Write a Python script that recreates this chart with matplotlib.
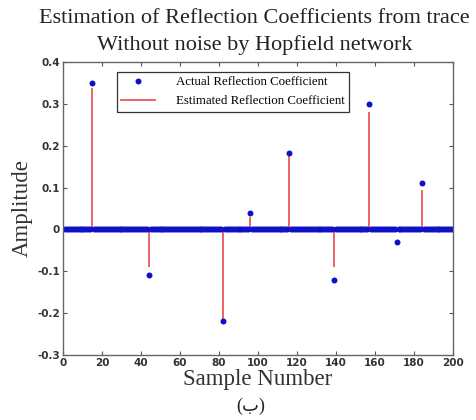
import numpy as np
import matplotlib
matplotlib.use("Agg")
import matplotlib.pyplot as plt
from matplotlib.lines import Line2D

# spike positions and values
spike_pos = [15, 44, 82, 96, 116, 139, 157, 171, 184]
actual_vals = [0.35, -0.11, -0.22, 0.04, 0.183, -0.12, 0.30, -0.03, 0.11]
estimated_vals = [0.338, -0.09, -0.215, 0.03, 0.18, -0.09, 0.281, 0.0, 0.094]
n_samples = 200

samples = np.arange(1, n_samples + 1)
actual = np.zeros(n_samples)
estimated = np.zeros(n_samples)
for p, a, e in zip(spike_pos, actual_vals, estimated_vals):
    actual[p - 1] = a
    estimated[p - 1] = e

serif = "Liberation Serif"
red = "#e8585c"
blue = "#1010c8"

fig = plt.figure(figsize=(4.77, 4.2), dpi=100)
ax = fig.add_axes([0.132, 0.155, 0.818, 0.697])

ax.vlines(samples, 0, estimated, color=red, linewidth=1.3)
ax.plot(samples, actual, linestyle="none", marker="o", markersize=4.3,
        color=blue, markeredgewidth=0)

ax.set_xlim(0, 200)
ax.set_ylim(-0.3, 0.4)
ax.set_xticks(np.arange(0, 201, 20))
ax.set_yticks(np.arange(-0.3, 0.41, 0.1))
ax.set_yticklabels(["-0.3", "-0.2", "-0.1", "0", "0.1", "0.2", "0.3", "0.4"])
ax.tick_params(direction="in", top=True, right=True, length=3, width=0.8,
               labelsize=7.5, color="#555555", pad=2)
for lab in ax.get_xticklabels() + ax.get_yticklabels():
    lab.set_fontweight("bold")
    lab.set_color("#333333")
for s in ax.spines.values():
    s.set_color("#666666")
    s.set_linewidth(1.0)

# two-line title placed like the original
fig.text(0.534, 0.957, "Estimation of Reflection Coefficients from trace",
         family=serif, fontsize=16, color="#222222", ha="center", va="center")
fig.text(0.534, 0.893, "Without noise by Hopfield network",
         family=serif, fontsize=16, color="#222222", ha="center", va="center")

ax.set_xlabel("Sample Number", fontfamily=serif, fontsize=16.5, color="#333333", labelpad=1)
ax.set_ylabel("Amplitude", fontfamily=serif, fontsize=16.5, color="#333333", labelpad=3)

handles = [Line2D([], [], linestyle="none", marker="o", markersize=4.3, color=blue, markeredgewidth=0),
           Line2D([], [], color=red, linewidth=1.3)]
leg = ax.legend(handles, ["Actual Reflection Coefficient", "Estimated Reflection Coefficient"],
                loc="upper left", bbox_to_anchor=(0.138, 0.968), prop={"family": serif, "size": 9.3},
                fancybox=False, framealpha=1, edgecolor="#333333", handlelength=2.6,
                borderpad=0.35, labelspacing=0.55, handletextpad=1.6, borderaxespad=0)
leg.get_frame().set_linewidth(0.9)

fig.text(0.525, 0.022, "(ب)", family=[serif, "DejaVu Sans"], fontsize=13, ha="center", color="#222222")

fig.savefig("out.png", dpi=100)
